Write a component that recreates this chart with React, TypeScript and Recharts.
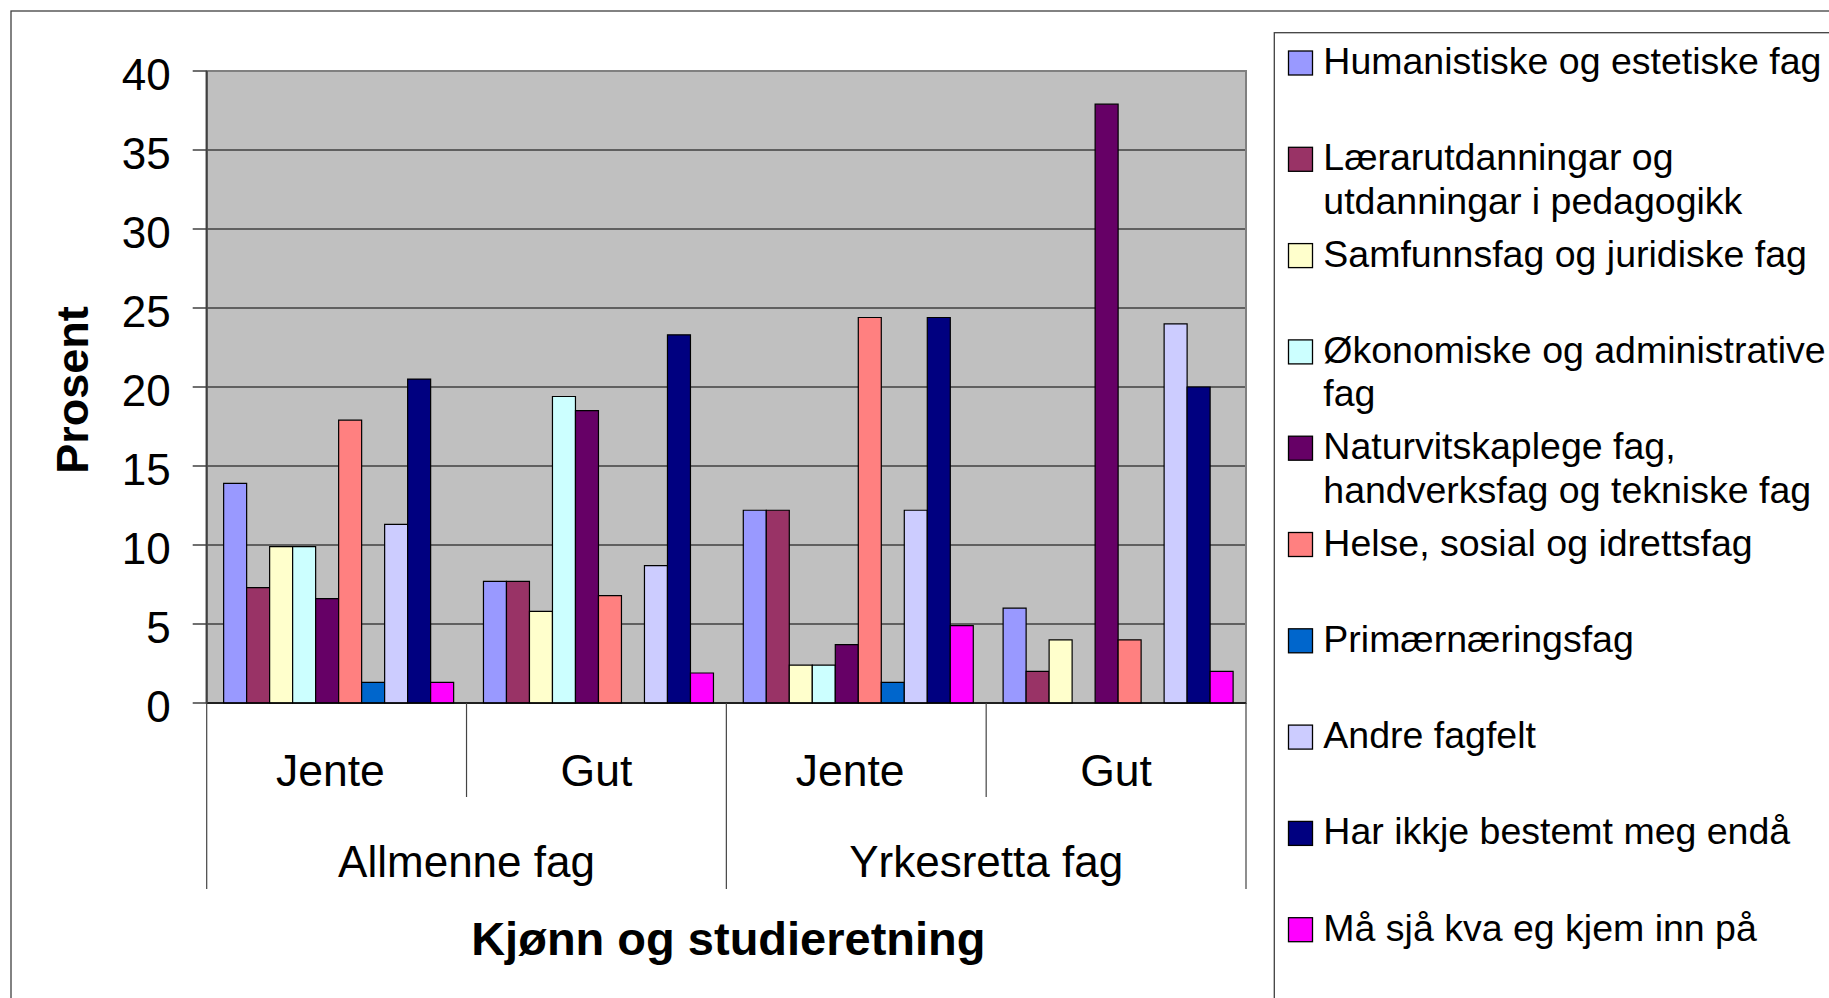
import React from 'react';
import { BarChart, Bar, XAxis, YAxis, CartesianGrid, ReferenceArea } from 'recharts';

// ---- data ----
const genders = ['Jente ', 'Gut', 'Jente ', 'Gut'];
const programmes = ['Allmenne fag', 'Allmenne fag', 'Yrkesretta fag', 'Yrkesretta fag'];
const yTicks = [0, 5, 10, 15, 20, 25, 30, 35, 40];

const humanistiske = [13.9, 7.7, 12.2, 6.0];
const lararutdanning = [7.3, 7.7, 12.2, 2.0];
const samfunnsfag = [9.9, 5.8, 2.4, 4.0];
const okonomiske = [9.9, 19.4, 2.4, null];
const naturvitskap = [6.6, 18.5, 3.7, 37.9];
const helse = [17.9, 6.8, 24.4, 4.0];
const primaer = [1.3, null, 1.3, null];
const andre = [11.3, 8.7, 12.2, 24.0];
const harIkkje = [20.5, 23.3, 24.4, 20.0];
const maaSjaa = [1.3, 1.9, 4.9, 2.0];

const seriesNames = [
  'Humanistiske og estetiske fag',
  'Lærarutdanningar og\nutdanningar i pedagogikk',
  'Samfunnsfag og juridiske fag',
  'Økonomiske og administrative\nfag',
  'Naturvitskaplege fag,\nhandverksfag og tekniske fag',
  'Helse, sosial og idrettsfag',
  'Primærnæringsfag',
  'Andre fagfelt',
  'Har ikkje bestemt meg endå',
  'Må sjå kva eg kjem inn på',
];
const seriesColors = [
  '#9999FF', '#993366', '#FFFFCC', '#CCFFFF', '#660066',
  '#FF8080', '#0066CC', '#CCCCFF', '#000080', '#FF00FF',
];
const seriesValues = [
  humanistiske, lararutdanning, samfunnsfag, okonomiske, naturvitskap,
  helse, primaer, andre, harIkkje, maaSjaa,
];

const data = genders.map((g, i) => {
  const row: any = { key: i, gender: g, programme: programmes[i] };
  seriesValues.forEach((vals, s) => {
    row['s' + s] = vals[i];
  });
  return row;
});

// ---- layout ----
const W = 1829;
const H = 998;
const PLOT_LEFT = 206.7;
const PLOT_RIGHT = 1246;
const PLOT_TOP = 71;
const PLOT_BOTTOM = 703;
const FONT = "'Liberation Sans', Arial, sans-serif";

const XTick = (props: any) => {
  const { x, payload } = props;
  const i = payload.index;
  const n = genders.length;
  const half = (PLOT_RIGHT - PLOT_LEFT) / n / 2;
  const y0 = PLOT_BOTTOM;
  const isGroupStart = i === 0 || programmes[i] !== programmes[i - 1];
  let groupCount = 1;
  while (i + groupCount < n && programmes[i + groupCount] === programmes[i]) groupCount++;
  const groupCenter = x - half + groupCount * half;
  return (
    <g>
      <line x1={x - half} x2={x - half} y1={y0} y2={isGroupStart ? 889 : 797} stroke="#444" strokeWidth={1.2} />
      {i === n - 1 && (
        <line x1={x + half} x2={x + half} y1={y0} y2={889} stroke="#444" strokeWidth={1.2} />
      )}
      <text
        x={x}
        y={y0 + 82.7}
        textAnchor="middle"
        fontFamily={FONT}
        fontSize={44.5}
        fill="#000"
        style={{ whiteSpace: 'pre' }}
      >
        {genders[i]}
      </text>
      {isGroupStart && (
        <text x={groupCenter} y={y0 + 173.7} textAnchor="middle" fontFamily={FONT} fontSize={44} fill="#000">
          {programmes[i]}
        </text>
      )}
    </g>
  );
};

const YTick = (props: any) => {
  const { x, y, payload } = props;
  return (
    <text x={x} y={y} dy={18.5} textAnchor="end" fontFamily={FONT} fontSize={44} fill="#000">
      {payload.value}
    </text>
  );
};

export default function App() {
  const legendLeft = 1274.3;
  const legendTop = 32.7;
  const slot = 96.3;
  const firstBaseline = 74;
  return (
    <div style={{ position: 'absolute', left: 0, top: 0, width: W, height: H, background: '#fff', overflow: 'hidden' }}>
      <BarChart
        width={W}
        height={H}
        data={data}
        margin={{ top: PLOT_TOP, right: W - PLOT_RIGHT, bottom: 0, left: 0 }}
        barGap={0}
        barCategoryGap="6.52%"
      >
        <CartesianGrid horizontal vertical={false} stroke="#000" strokeWidth={1} fill="#C0C0C0" fillOpacity={1} />
        <ReferenceArea y1={0} y2={40} fill="none" stroke="#808080" strokeWidth={2} ifOverflow="visible" />
        <XAxis
          dataKey="key"
          height={H - PLOT_BOTTOM}
          interval={0}
          tickLine={false}
          axisLine={{ stroke: '#000', strokeWidth: 1.5 }}
          tick={<XTick />}
          label={{
            content: () => (
              <text
                x={PLOT_LEFT + (PLOT_RIGHT - PLOT_LEFT) / 2 + 2}
                y={954.5}
                textAnchor="middle"
                fontFamily={FONT}
                fontSize={47}
                fontWeight="bold"
                fill="#000"
              >
                Kjønn og studieretning
              </text>
            ),
          }}
        />
        <YAxis
          width={PLOT_LEFT}
          domain={[0, 40]}
          ticks={yTicks}
          interval={0}
          tickSize={14}
          tickMargin={22}
          tickLine={{ stroke: '#404040', strokeWidth: 1.5 }}
          axisLine={{ stroke: '#404040', strokeWidth: 2 }}
          tick={<YTick />}
          label={{
            content: () => (
              <text
                x={88.3}
                y={390}
                transform={`rotate(-90, 88.3, 390)`}
                textAnchor="middle"
                fontFamily={FONT}
                fontSize={45}
                fontWeight="bold"
                fill="#000"
              >
                Prosent
              </text>
            ),
          }}
        />
        {seriesNames.map((name, s) => (
          <Bar
            key={s}
            dataKey={'s' + s}
            name={name.replace('\n', ' ')}
            fill={seriesColors[s]}
            stroke="#000"
            strokeWidth={1.2}
            isAnimationActive={false}
          />
        ))}
      </BarChart>
      <svg
        width={W}
        height={H}
        style={{ position: 'absolute', left: 0, top: 0, pointerEvents: 'none' }}
      >
        <rect x={11} y={11} width={W} height={H} fill="none" stroke="#404040" strokeWidth={1.3} />
        <rect x={legendLeft} y={legendTop} width={W} height={H} fill="#fff" stroke="#404040" strokeWidth={1.3} />
        {seriesNames.map((name, s) => {
          const base = firstBaseline + s * slot;
          const lines = name.split('\n');
          return (
            <g key={s}>
              <rect x={1288.5} y={base - 23} width={24} height={24} fill={seriesColors[s]} stroke="#000" strokeWidth={1.3} />
              {lines.map((ln, li) => (
                <text
                  key={li}
                  x={1323.3}
                  y={base + li * 43.3}
                  fontFamily={FONT}
                  fontSize={37.5}
                  fill="#000"
                >
                  {ln}
                </text>
              ))}
            </g>
          );
        })}
      </svg>
    </div>
  );
}
